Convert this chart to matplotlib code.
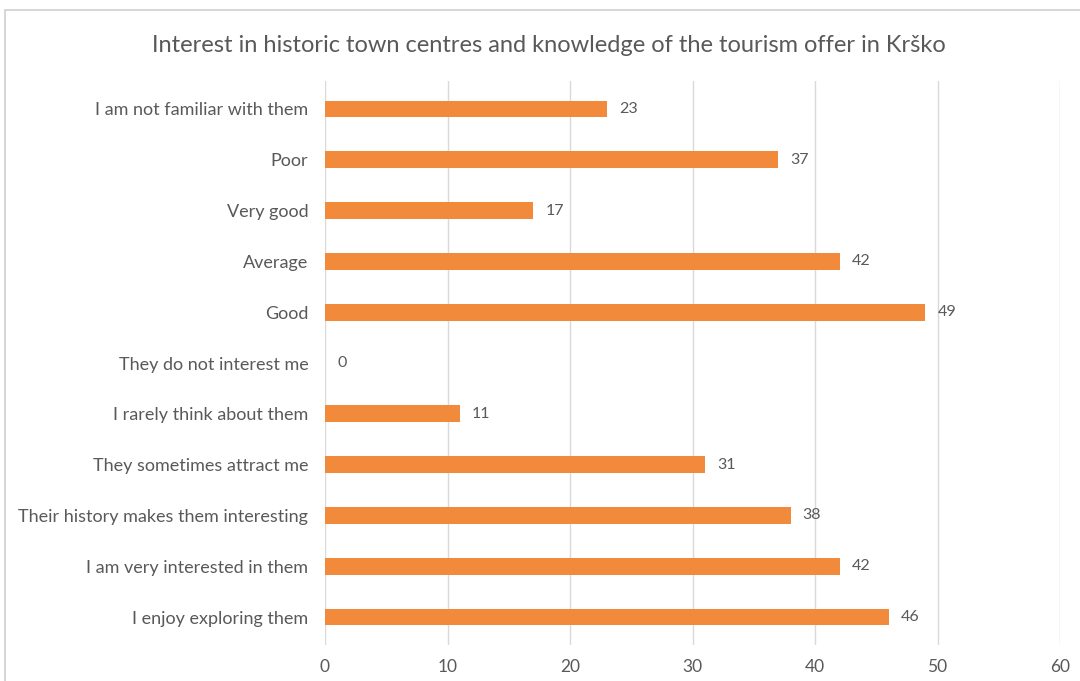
import matplotlib.pyplot as plt
from matplotlib.patches import Rectangle

# answers, top to bottom as listed in the chart
categories = [
    "I am not familiar with them",
    "Poor",
    "Very good",
    "Average",
    "Good",
    "They do not interest me",
    "I rarely think about them",
    "They sometimes attract me",
    "Their history makes them interesting",
    "I am very interested in them",
    "I enjoy exploring them",
]
counts = [23, 37, 17, 42, 49, 0, 11, 31, 38, 42, 46]
xticks = [0, 10, 20, 30, 40, 50, 60]

bar_color = "#F28A3C"
text_color = "#595959"
grid_color = "#D9D9D9"

plt.rcParams['font.family'] = ['Lato', 'DejaVu Sans']

fig = plt.figure(figsize=(10.8, 6.81), dpi=100)
ax = fig.add_axes([325 / 1080, 1 - 645 / 681, 735 / 1080, (645 - 81) / 681])

# chart frame
fig.patches.append(Rectangle((5 / 1080, -0.1), 1.2, 1 - 10 / 681 + 0.1,
                             transform=fig.transFigure, fill=False,
                             edgecolor="#D0D0D0", linewidth=1.2))

ypos = list(range(len(categories)))[::-1]
ax.barh(ypos, counts, height=0.33, color=bar_color, zorder=3)
for y, v in zip(ypos, counts):
    ax.text(v + 1.0, y, str(v), va="center", ha="left",
            fontsize=11.5, color=text_color)

ax.set_xlim(0, 60)
ax.set_ylim(-0.55, len(categories) - 0.45)
ax.set_xticks(xticks)
ax.set_xticklabels([str(t) for t in xticks])
ax.set_yticks(ypos)
ax.set_yticklabels(categories)
ax.tick_params(axis="both", length=0, colors=text_color)
ax.tick_params(axis="y", pad=12, labelsize=13)
ax.tick_params(axis="x", pad=10, labelsize=12.5)
ax.xaxis.grid(True, color=grid_color, linewidth=1, zorder=0)
for s in ax.spines.values():
    s.set_visible(False)

fig.text(549 / 1080, 1 - 45 / 681, "Interest in historic town centres and knowledge of the tourism offer in Krško",
         ha="center", va="center", fontsize=17, color=text_color)

fig.savefig("out.png", dpi=100)
